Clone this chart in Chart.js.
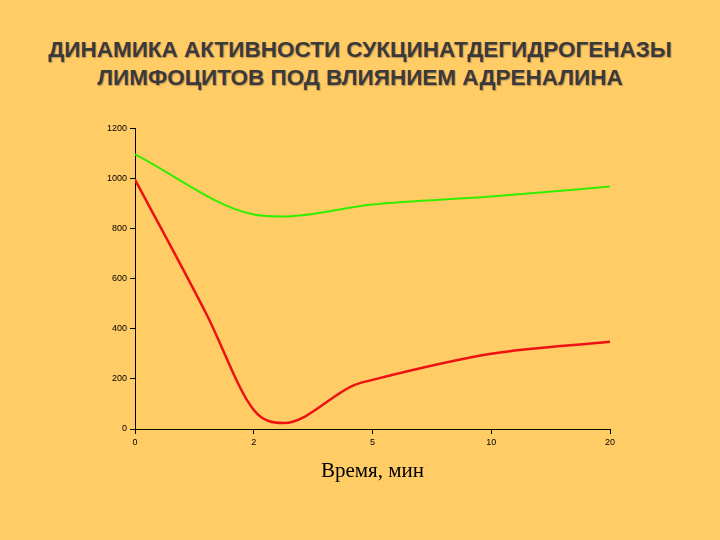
<!DOCTYPE html>
<html><head><meta charset="utf-8">
<script src="https://cdn.jsdelivr.net/npm/chart.js@4"></script>
<style>
body{margin:0;background:#FFCC66;width:720px;height:540px;overflow:hidden}
h1{position:absolute;top:36px;left:0;width:720px;margin:0;text-align:center;font:bold 22.5px "Liberation Sans",Arial,sans-serif;color:#3a3a3a;text-shadow:1px 1px 1px #c09050;line-height:28px}
#box{position:absolute;left:104px;top:120px;width:526px;height:368px}
</style></head><body>
<h1>ДИНАМИКА АКТИВНОСТИ СУКЦИНАТДЕГИДРОГЕНАЗЫ<br>ЛИМФОЦИТОВ ПОД ВЛИЯНИЕМ АДРЕНАЛИНА</h1>
<div id="box"><canvas id="c"></canvas></div>
<script>
var tickLabels = ['0','2','5','10','20'];
var greenX = [0, 1, 1.25, 2, 3, 4];
var greenY = [1096, 856, 848, 896, 928, 968];
var redX = [0, 0.6, 1, 1.25, 1.85, 2, 3, 4];
var redY = [996, 460, 76, 24, 176, 196, 300, 348];

function pts(xs, ys) {
    var out = [];
    for (var i = 0; i < xs.length; i++) out.push({x: xs[i], y: ys[i]});
    return out;
}

new Chart(document.getElementById('c'), {
    type: 'line',
    data: {
        datasets: [
            {data: pts(greenX, greenY), borderColor: '#33ee00', borderWidth: 2, pointRadius: 0, fill: false, cubicInterpolationMode: 'monotone'},
            {data: pts(redX, redY), borderColor: '#ee1111', borderWidth: 2.5, pointRadius: 0, fill: false, cubicInterpolationMode: 'monotone'}
        ]
    },
    options: {
        responsive: true, maintainAspectRatio: false, animation: false,
        layout: {padding: {right: 20}},
        plugins: {legend: {display: false}, tooltip: {enabled: false}},
        scales: {
            x: {
                type: 'linear', min: 0, max: 4,
                grid: {drawOnChartArea: false, drawTicks: true, tickLength: 5, color: '#000'},
                border: {color: '#000'},
                ticks: {stepSize: 1, color: '#000', font: {size: 9, family: 'Liberation Sans'},
                    callback: function (v) { return tickLabels[v]; }},
                title: {display: true, text: 'Время, мин', color: '#000', font: {size: 21, family: 'Liberation Serif'}, padding: {top: 8}}
            },
            y: {
                min: 0, max: 1200,
                grid: {drawOnChartArea: false, tickLength: 5, color: '#000'},
                border: {color: '#000'},
                ticks: {stepSize: 200, color: '#000', font: {size: 9, family: 'Liberation Sans'},
                    callback: function (v) { return String(v); }}
            }
        }
    }
});
</script>
</body></html>
